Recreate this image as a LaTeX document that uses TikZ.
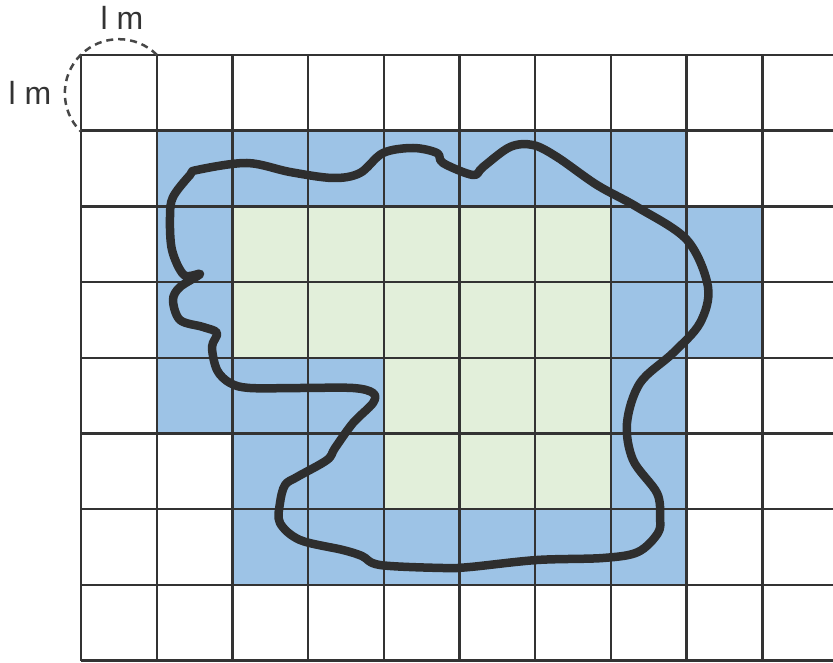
\documentclass[tikz,border=0pt]{standalone}
\usepackage{fontspec}
\setmainfont{Liberation Sans}
\definecolor{gridline}{HTML}{333333}
\definecolor{cellblue}{HTML}{9DC3E6}
\definecolor{cellgreen}{HTML}{E2EFDA}
\definecolor{blobline}{HTML}{2E2E2E}
\begin{document}
\begin{tikzpicture}[
  x=1pt, y=-1pt,
  cell/.style={fill=#1, draw=none},
  gridln/.style={draw=gridline, line width=2.4pt},
  unit/.style={font=\fontsize{32}{32}\selectfont, text=gridline, inner sep=0pt},
  blob/.style={draw=blobline, line width=8.5pt, line join=round}
]
  \useasboundingbox (0,0) rectangle (833,663);
  % Blue cells
  \foreach \c/\r in {1/1,2/1,3/1,4/1,5/1,6/1,7/1,
                     1/2,7/2,8/2, 1/3,7/3,8/3,
                     1/4,2/4,3/4,7/4, 2/5,3/5,7/5,
                     2/6,3/6,4/6,5/6,6/6,7/6} {
    \pgfmathsetmacro{\x}{81 + \c * 75.7}
    \pgfmathsetmacro{\y}{55 + \r * 75.7}
    \path[cell=cellblue] (\x, \y) rectangle ++(75.7, 75.7);
  }
  % Green cells
  \foreach \c/\r in {2/2,3/2,4/2,5/2,6/2, 2/3,3/3,4/3,5/3,6/3,
                     4/4,5/4,6/4, 4/5,5/5,6/5} {
    \pgfmathsetmacro{\x}{81 + \c * 75.7}
    \pgfmathsetmacro{\y}{55 + \r * 75.7}
    \path[cell=cellgreen] (\x, \y) rectangle ++(75.7, 75.7);
  }
  % Grid
  \foreach \i in {0,...,9} {
    \pgfmathsetmacro{\x}{81 + \i * 75.7}
    \draw[gridln] (\x, 55) -- (\x, 660.6);
  }
  \foreach \j in {0,...,8} {
    \pgfmathsetmacro{\y}{55 + \j * 75.7}
    \draw[gridln] (81, \y) -- (833, \y);
  }
  % Unit circle
  \coordinate (ne) at (157, 55);
  \draw[gridline!90, line width=2.5pt, dash pattern=on 7pt off 5pt]
    (ne) arc[start angle=45, end angle=225, radius=54pt];
  \node[unit] (utop) at (122, 18) {l m};
  \node[unit] (uleft) at (30, 93) {l m};
  % Outline
  \draw[blob] plot[smooth cycle, tension=0.55] coordinates {
    (197,170) (247,163) (290,172) (333,178) (360,173) (383,153) (413,148)
    (437,153) (443,163) (473,175) (483,167) (510,147) (533,145) (557,157)
    (597,185) (637,207) (687,240) (708,287) (700,323) (673,353) (640,383)
    (627,423) (633,460) (657,493) (660,517) (658,533) (638,552) (603,558)
    (537,560) (470,567) (443,568) (380,565) (362,556) (343,550) (300,540)
    (280,523) (280,503) (285,485) (297,477) (327,460) (335,448) (353,423)
    (373,403) (373,393) (353,388) (300,388) (250,388) (230,383) (217,370)
    (212,347) (217,333) (203,327) (180,320) (173,300) (180,287) (200,274)
    (184,275) (172,250) (170,217) (173,197) (190,175)};
\end{tikzpicture}
\end{document}
